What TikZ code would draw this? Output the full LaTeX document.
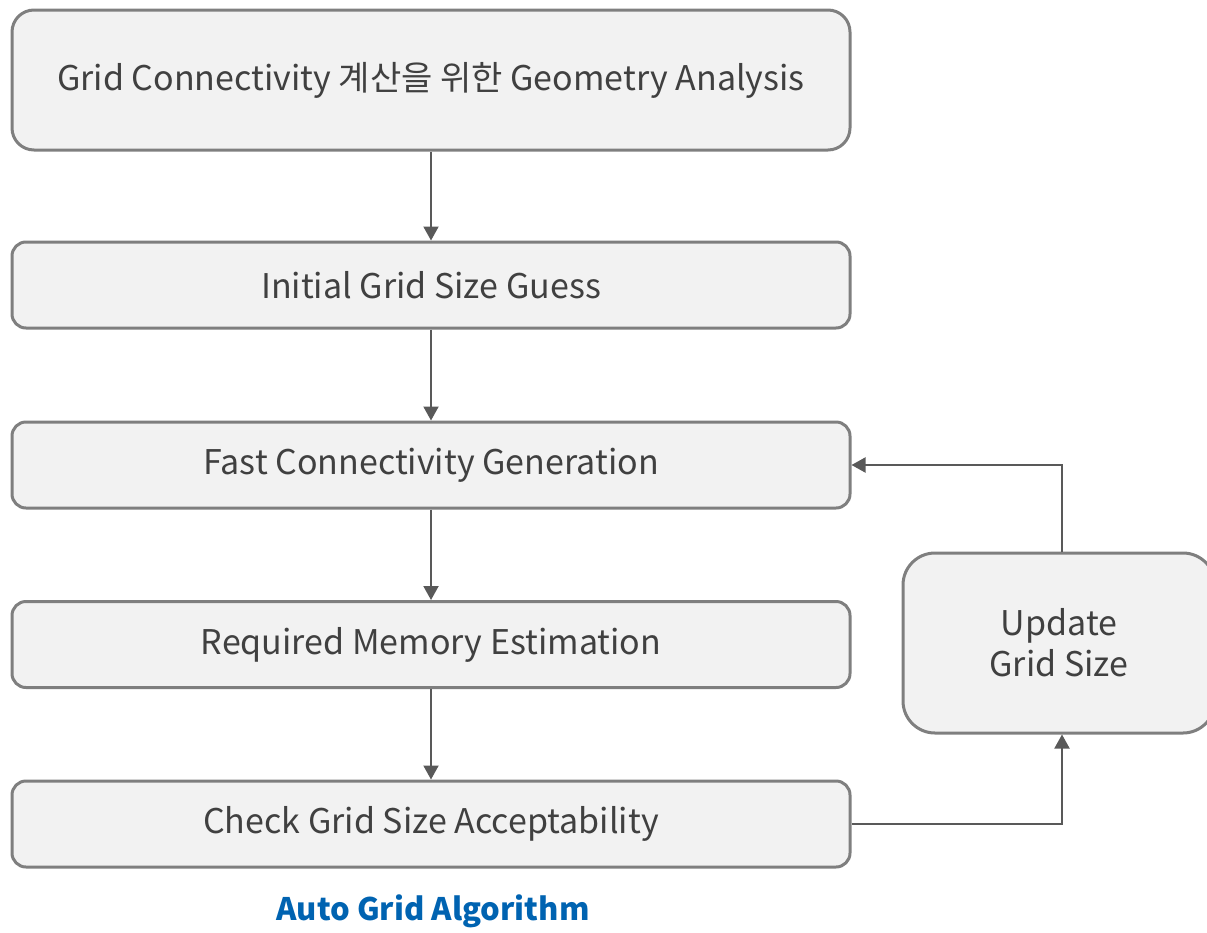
\documentclass[tikz,border=0pt]{standalone}
\usepackage{fontspec}
\setmainfont{Noto Sans CJK KR}
\usetikzlibrary{arrows.meta}
\definecolor{boxfill}{HTML}{F2F2F2}
\definecolor{boxline}{HTML}{7F7F7F}
\definecolor{arrowc}{HTML}{595959}
\definecolor{txt}{HTML}{404040}
\definecolor{capblue}{RGB}{0,99,177}
\begin{document}
\begin{tikzpicture}[x=1pt,y=-1pt,
  stepbox/.style={draw=boxline,fill=boxfill,line width=3pt,rounded corners=14pt,
    minimum width=838pt,minimum height=86pt,inner sep=0pt,text=txt,
    font=\fontsize{34}{41}\selectfont,align=center},
  conn/.style={draw=arrowc,line width=2pt,-{Triangle[length=14pt,width=15pt]}}]
\useasboundingbox (0,0) rectangle (1207,932);
\node[stepbox,minimum height=140pt,rounded corners=22pt] (b1) at (431,80) {Grid Connectivity 계산을 위한 Geometry Analysis};
\node[stepbox] (b2) at (431,285) {Initial Grid Size Guess};
\node[stepbox] (b3) at (431,465) {Fast Connectivity Generation};
\node[stepbox] (b4) at (431,644.5) {Required Memory Estimation};
\node[stepbox] (b5) at (431,824) {Check Grid Size Acceptability};
\node[stepbox,minimum width=312pt,minimum height=180pt,rounded corners=32pt] (up) at (1059,643) {Update\\Grid Size};
\node[text=capblue,font=\fontsize{31}{36}\selectfont\bfseries] (cap) at (433,911) {Auto Grid Algorithm};
\draw[conn] (b1.south) -- (b2.north);
\draw[conn] (b2.south) -- (b3.north);
\draw[conn] (b3.south) -- (b4.north);
\draw[conn] (b4.south) -- (b5.north);
\draw[conn] (up.north -| 1062,0) |- (b3.east);
\draw[conn] (b5.east) -| (up.south -| 1062,0);
\end{tikzpicture}
\end{document}
